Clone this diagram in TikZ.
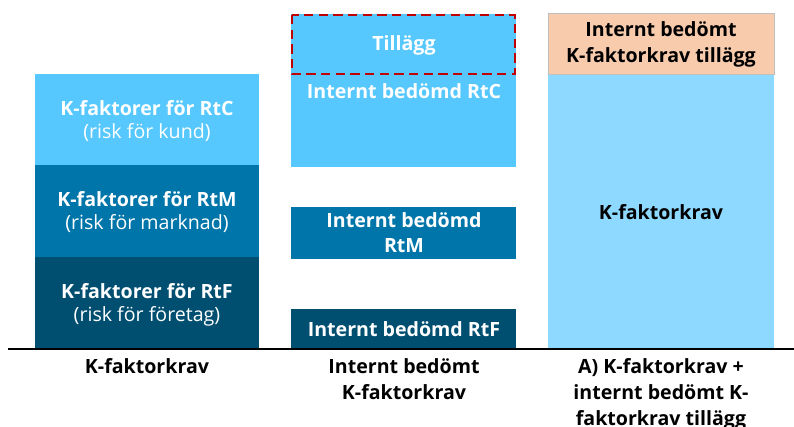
\documentclass[tikz,border=0pt]{standalone}
\usepackage{fontspec}
\setmainfont{Open Sans}
\definecolor{cA}{HTML}{56C8FE}
\definecolor{cB}{HTML}{0075A9}
\definecolor{cC}{HTML}{004F71}
\definecolor{cD}{HTML}{8DD9FF}
\definecolor{cE}{HTML}{F8CBAD}
\definecolor{cR}{HTML}{C00000}
\begin{document}
\begin{tikzpicture}[x=0.75pt,y=-0.75pt,
  wt/.style={text=white,font=\fontsize{14.7}{18.75}\selectfont\bfseries,align=center,inner sep=0pt},
  wr/.style={text=white,font=\fontsize{14.7}{18.75}\selectfont,align=center,inner sep=0pt},
  bt/.style={text=black,font=\fontsize{14.7}{19.5}\selectfont\bfseries,align=center,inner sep=0pt}]
\useasboundingbox (0,0) rectangle (794,427);
% left column
\fill[cA] (35,74) rectangle (259,165);
\fill[cB] (35,165) rectangle (259,257);
\fill[cC] (35,257) rectangle (259,349);
\node[wt] (lc1) at (147,108) {K-faktorer för RtC};
\node[wr] (lc2) at (147,133) {(risk för kund)};
\node[wt] (lm1) at (147,199) {K-faktorer för RtM};
\node[wr] (lm2) at (147,224) {(risk för marknad)};
\node[wt] (lf1) at (147,291) {K-faktorer för RtF};
\node[wr] (lf2) at (147,316) {(risk för företag)};
% middle column
\fill[cA] (291,14) rectangle (516,167);
\draw[cR,line width=2.2pt,dash pattern=on 7pt off 4pt] (292,15) rectangle (515,74);
\node[wt] (mt) at (404,45) {Tillägg};
\node[wt] (mc) at (404,91) {Internt bedömd RtC};
\fill[cB] (291,207) rectangle (516,259);
\node[wt] (mm) at (404,233) {Internt bedömd\\RtM};
\fill[cC] (291,309) rectangle (516,349);
\node[wt] (mf) at (404,329) {Internt bedömd RtF};
% right column
\fill[cE] (548,13) rectangle (774,74);
\fill[cD] (548,74) rectangle (774,349);
\draw[black!25,line width=0.5pt] (548,13) rectangle (774,74);
\node[bt] (rt) at (661,44) {Internt bedömt\\K-faktorkrav tillägg};
\node[bt] (rk) at (661,212) {K-faktorkrav};
% baseline
\draw[black,line width=2.2pt] (8,349) -- (794,349);
% labels
\node[bt,anchor=north] (b1) at (147,358) {K-faktorkrav};
\node[bt,anchor=north] (b2) at (404,358) {Internt bedömt\\K-faktorkrav};
\node[bt,anchor=north] (b3) at (661,358) {A) K-faktorkrav +\\internt bedömt K-\\faktorkrav tillägg};
\end{tikzpicture}
\end{document}
